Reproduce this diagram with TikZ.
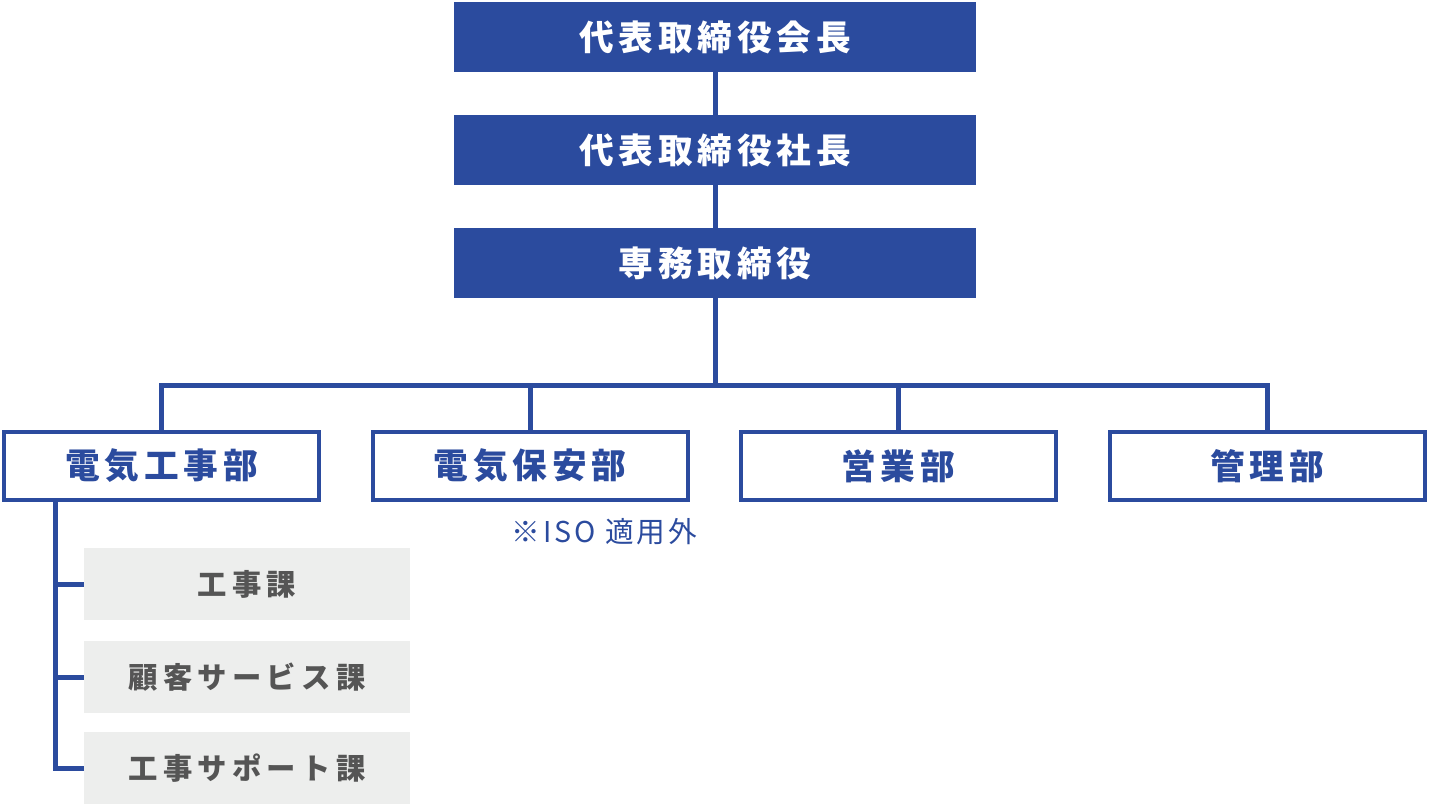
\documentclass[tikz,border=0pt]{standalone}
\usepackage{fontspec}
\usepackage{tikz}
\usetikzlibrary{calc,positioning}

\newfontfamily\boxfont[LetterSpace=14]{Noto Sans CJK JP}
\newfontfamily\subfont[LetterSpace=18]{Noto Sans CJK JP}
\newfontfamily\notefont[LetterSpace=10]{Noto Sans CJK JP}
\definecolor{orgblue}{RGB}{43,75,158}
\definecolor{subgray}{RGB}{237,238,237}
\definecolor{subtext}{RGB}{85,85,85}

\begin{document}
\begin{tikzpicture}[x=0.75pt,y=-0.75pt,
    topbox/.style={fill=orgblue,text=white,minimum width=391.5pt,minimum height=52.5pt,
        font=\boxfont\bfseries\fontsize{26}{30}\selectfont},
    deptbox/.style={draw=orgblue,line width=3pt,fill=white,text=orgblue,minimum width=236.25pt,
        minimum height=51pt,font=\boxfont\bfseries\fontsize{26}{30}\selectfont},
    subbox/.style={fill=subgray,text=subtext,minimum width=244.5pt,minimum height=54pt,
        font=\subfont\bfseries\fontsize{22}{26}\selectfont},
    link/.style={draw=orgblue,line width=3.75pt}]
    \useasboundingbox (0,0) rectangle (1429,804);

    \node [topbox] (chair) at (715,37) {代表取締役会長};
    \node [topbox] (pres) at (715,150) {代表取締役社長};
    \node [topbox] (exec) at (715,263) {専務取締役};

    \node [deptbox] (eng) at (161.5,466) {電気工事部};
    \node [deptbox] (safety) at (530,466) {電気保安部};
    \node [deptbox] (sales) at (898,466) {営業部};
    \node [deptbox] (admin) at (1267,466) {管理部};

    \node [text=orgblue,anchor=east,inner sep=0pt,font=\notefont\fontsize{21.5}{24}\selectfont]
        (iso) at (697,532) {※ISO 適用外};

    \node [subbox] (works) at (247,584) {工事課};
    \node [subbox] (service) at (247,677) {顧客サービス課};
    \node [subbox] (support) at (247,768) {工事サポート課};

    \coordinate (bar) at (715,385);
    \coordinate (spine) at (55,0);

    \draw [link] (chair) -- (pres);
    \draw [link] (pres) -- (exec);
    \draw [link] (exec) -- (bar);
    \draw [link] (eng.north) |- (bar) -| (admin.north);
    \draw [link] (safety.north) -- (safety.north |- bar);
    \draw [link] (sales.north) -- (sales.north |- bar);

    % sections under the works department
    \draw [link] (eng.south -| spine) |- (support.west);
    \draw [link] (spine |- works.west) -- (works.west);
    \draw [link] (spine |- service.west) -- (service.west);
\end{tikzpicture}
\end{document}
